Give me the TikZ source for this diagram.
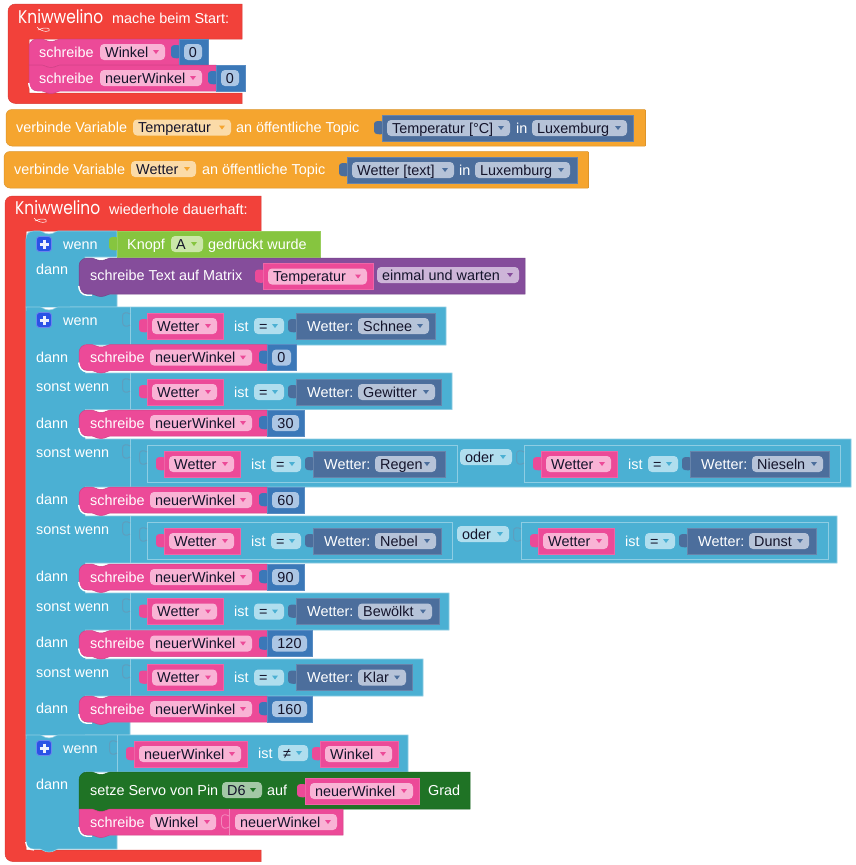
\documentclass[tikz,border=0pt]{standalone}
\usepackage{fontspec}
\setmainfont{Liberation Sans}
\newfontfamily\logofont{Poppins}
\definecolor{cRed}{HTML}{F2413A}
\definecolor{cPink}{HTML}{EC4A98}
\definecolor{fPink}{HTML}{F9B3D5}
\definecolor{cVal}{HTML}{3B78B8}
\definecolor{fVal}{HTML}{ACC6E4}
\definecolor{cSteel}{HTML}{4C6E9C}
\definecolor{fSteel}{HTML}{B6C3D8}
\definecolor{cOr}{HTML}{F5A52F}
\definecolor{fOr}{HTML}{FBDBA8}
\definecolor{cIf}{HTML}{4BB0D3}
\definecolor{fIf}{HTML}{B0DEEE}
\definecolor{lIf}{HTML}{8ECDE3}
\definecolor{sIf}{HTML}{5E9EBE}
\definecolor{cGr}{HTML}{86C53F}
\definecolor{fGr}{HTML}{CBE6A9}
\definecolor{cPu}{HTML}{854D9B}
\definecolor{fPu}{HTML}{CDB5D8}
\definecolor{cDg}{HTML}{1F7325}
\definecolor{fDg}{HTML}{A3C8A6}
\definecolor{cPlus}{HTML}{2A52E6}
\definecolor{ink}{HTML}{14142B}
\newcounter{nn}
\tikzset{
  txt/.style={inner sep=0pt,font=\fontsize{14.4}{16}\selectfont},
  edge/.style={line width=.5pt},
  ifblock/.style={fill=cIf,draw=lIf,line width=.6pt},
  slotline/.style={draw=lIf,line width=.7pt},
  slotbump/.style={draw=sIf,line width=1pt}
}
\newcommand\Tx[4]{\stepcounter{nn}\node[txt,text=#3,anchor=base west] (n\arabic{nn}) at ({#1},{#2+5}) {#4};}
\newcommand\Wh[3]{\Tx{#1}{#2}{white}{#3}}
\newcommand\Fld[6]{\fill[#1,rounded corners=4pt] ({#3},{#5-8}) rectangle ({#4},{#5+8});
  \Tx{#3+5}{#5}{ink}{#6}
  \fill[#2] ({#4-12},{#5-2}) -- ({#4-6},{#5-2}) -- ({#4-9},{#5+2}) -- cycle;}
\newcommand\Num[4]{\fill[fVal,rounded corners=4pt] ({#1},{#3-8}) rectangle ({#2},{#3+8});
  \stepcounter{nn}\node[txt,text=ink,anchor=base] (n\arabic{nn}) at ({(#1+#2)/2},{#3+5}) {#4};}
\newcommand\Tab[3]{\fill[#1] ({#2+1},{#3-6.5}) .. controls ({#2-2},{#3-7}) and ({#2-8},{#3-8}) .. ({#2-8},{#3-4}) -- ({#2-8},{#3+3}) .. controls ({#2-8},{#3+7}) and ({#2-2},{#3+6.5}) .. ({#2+1},{#3+6}) -- cycle;}
\newcommand\Val[4]{\Tab{#1}{#2}{#4}
  \draw[fill=#1,draw=#1!85!white,edge] ({#2},{#4-13}) rectangle ({#3},{#4+13});}
% statement: colour, x, y, w, h, top radius, bottom radius
\newcommand\Stm[7]{\begin{scope}[shift={(#2,#3)}]
  \draw[fill=#1,draw=#1!88!black,edge] (0,#6) .. controls (0,{#6*.45}) and ({#6*.45},0) .. (#6,0) -- (13,0)
   .. controls (15.5,0) and (17,2.5) .. (22,2.5) .. controls (27,2.5) and (28.5,0) .. (31,0)
   -- (#4,0) -- (#4,#5) -- (31,#5) .. controls (28.5,#5) and (27,{#5+2.5}) .. (22,{#5+2.5}) .. controls (17,{#5+2.5}) and (15.5,#5) .. (13,#5)
   -- (#7,#5) .. controls ({#7*.45},#5) and (0,{#5-#7*.45}) .. (0,{#5-#7}) -- cycle;
  \end{scope}}
\newcommand\Sliver[2]{\draw[white,line width=1.4pt] ({#1-.3},{#2-8}) .. controls ({#1},{#2-3}) and ({#1+3},{#2+1.2}) .. ({#1+8},{#2+1.2}) -- ({#1+13},{#2+1.2});}
\newcommand\Schr[3]{\Stm{cPink}{79}{#1}{188}{26}{8}{8}\Sliver{79}{#1+26}
  \Wh{90}{#1+13}{schreibe}\Fld{fPink}{cPink}{150}{252}{#1+13}{neuerWinkel}
  \Val{cVal}{267}{#2}{#1+13}\Num{272}{#2-5}{#1+13}{#3}}
\newcommand\Pk[4]{\Val{cPink}{#1}{#2}{#3}\Fld{fPink}{cPink}{#1+5}{#2-6}{#3}{#4}}
% x0, yc, dark end, field end, label
\newcommand\CondR[5]{\Pk{#1}{#1+76}{#2}{Wetter}
  \Wh{#1+87}{#2}{ist}\Fld{fIf}{cIf}{#1+107}{#1+137}{#2}{=}
  \Val{cSteel}{#1+149}{#3}{#2}\Wh{#1+160}{#2}{Wetter:}\Fld{fSteel}{cSteel}{#1+211}{#4}{#2}{#5}}
\newcommand\Bump[2]{\draw[slotbump] ({#1},{#2+7}) .. controls ({#1-3},{#2+5}) and ({#1-7.5},{#2+5}) .. ({#1-7.5},{#2+9}) -- ({#1-7.5},{#2+15}) .. controls ({#1-7.5},{#2+20}) and ({#1-3},{#2+20}) .. ({#1},{#2+18});}
\newcommand\Slot[3]{\draw[slotline] ({#1},{#2}) -- ({#1},{#3});\Bump{#1}{#2}}
\newcommand\Plus[1]{\draw[fill=cPlus,draw=cPlus!70!white,line width=.8pt,rounded corners=3pt] (36.5,{#1-7.5}) rectangle (51.5,{#1+7.5});
  \draw[white!92!cPlus,line width=3pt] (39.5,#1) -- (48.5,#1) (44,{#1-4.5}) -- (44,{#1+4.5});}
\newcommand\Logo[2]{\stepcounter{nn}\node[inner sep=0pt,text=white,anchor=base west,font=\logofont\fontsize{17.5}{18}\selectfont] (n\arabic{nn}) at (#1,{#2+6}) {\scalebox{.88}[1.05]{Kniwwelino}};
  \draw[white,line width=.5pt] ({#1+19},{#2+10}) .. controls ({#1+24},{#2+16}) and ({#1+34},{#2+15}) .. ({#1+31},{#2+12}) .. controls ({#1+29},{#2+10}) and ({#1+24},{#2+11}) .. ({#1+20},{#2+13});}
\begin{document}
\begin{tikzpicture}[x=1pt,y=-1pt]
\useasboundingbox (0,0) rectangle (856,865);
\fill[white] (0,0) rectangle (856,865);
% --- start hat
\draw[fill=cRed,draw=cRed!90!black,edge] (8,12) .. controls (8,7) and (11,4) .. (16,4) -- (242,4) -- (242,39) -- (29,39) -- (29,93) -- (242,93) -- (242,103.5) -- (16,103.5) .. controls (11,103.5) and (8,100) .. (8,96) -- cycle;
\Logo{18}{17}
\Wh{112}{18}{mache beim Start:}
\Stm{cPink}{29}{39}{150}{26}{8}{0}
\Wh{39}{52}{schreibe}\Fld{fPink}{cPink}{100}{165}{52}{Winkel}
\Val{cVal}{179}{208}{52}\Num{184}{202}{52}{0}
\Stm{cPink}{29}{65}{187}{26}{0}{8}\Sliver{29}{91}
\Wh{39}{78}{schreibe}\Fld{fPink}{cPink}{100}{202}{78}{neuerWinkel}
\Val{cVal}{216}{245}{78}\Num{221}{239}{78}{0}
% --- orange 1
\draw[fill=cOr,draw=cOr!90!black,edge,rounded corners=6pt] (645,109.5) -- (6,109.5) -- (6,146) -- (645,146);
\draw[cOr!90!black,edge] (645,109.5) -- (645,146);
\Wh{16}{127.5}{verbinde Variable}\Fld{fOr}{cOr}{133}{231}{127.5}{Temperatur}\Wh{236}{127.5}{an öffentliche Topic}
\Val{cSteel}{382}{633}{128}\Fld{fSteel}{cSteel}{387}{510}{128}{Temperatur [°C]}\Wh{516}{128}{in}\Fld{fSteel}{cSteel}{532}{627}{128}{Luxemburg}
% --- orange 2
\draw[fill=cOr,draw=cOr!90!black,edge,rounded corners=6pt] (588,151.5) -- (4,151.5) -- (4,188) -- (588,188);
\draw[cOr!90!black,edge] (588,151.5) -- (588,188);
\Wh{14}{169}{verbinde Variable}\Fld{fOr}{cOr}{131}{196}{169}{Wetter}\Wh{202}{169}{an öffentliche Topic}
\Val{cSteel}{347}{577}{170}\Fld{fSteel}{cSteel}{352}{454}{170}{Wetter [text]}\Wh{459}{170}{in}\Fld{fSteel}{cSteel}{475}{570}{170}{Luxemburg}
% --- main loop
\draw[fill=cRed,draw=cRed!90!black,edge] (5,204) .. controls (5,199) and (8,196) .. (13,196) -- (261,196) -- (261,231) -- (26,231) -- (26,850) -- (261,850) -- (261,861.5) -- (13,861.5) .. controls (8,861.5) and (5,858) .. (5,853) -- cycle;
\Logo{15}{208}
\Wh{109}{209}{wiederhole dauerhaft:}
% --- if 1
\draw[ifblock] (26,239) .. controls (26,234) and (29,231) .. (34,231) -- (40,231) .. controls (42,231) and (44,234) .. (49,234) .. controls (54,234) and (56,231) .. (58,231) -- (117,231) -- (117,257) -- (85,257) -- (85,294) -- (117,294) -- (117,307) -- (26,307) -- cycle;
\fill[cIf] (25.7,239) rectangle (70,306.5);
\Plus{244}\Wh{63}{244}{wenn}\Wh{36}{269}{dann}
\Val{cGr}{117}{320}{244}\Wh{127}{244}{Knopf}\Fld{fGr}{cGr}{171}{203}{244}{A}\Wh{208}{244}{gedrückt wurde}
\Stm{cPu}{79}{258}{446}{36}{8}{8}\Sliver{79}{294}
\Wh{90}{275}{schreibe Text auf Matrix}
\Val{cPink}{263}{373}{276.5}\Fld{fPink}{cPink}{268}{367}{276.5}{Temperatur}
\Fld{fPu}{cPu}{377}{519}{275}{einmal und warten}
% --- if 2
\draw[ifblock] (26,307) -- (40,307) .. controls (42,307) and (44,310) .. (49,310) .. controls (54,310) and (56,307) .. (58,307)
  -- (446,307) -- (446,345) -- (85,345) -- (85,373) -- (452,373) -- (452,409.5) -- (85,409.5) -- (85,439) -- (851,439) -- (851,487) -- (85,487)
  -- (85,516) -- (837,516) -- (837,563) -- (85,563) -- (85,593) -- (449,593) -- (449,630) -- (85,630) -- (85,659) -- (423,659) -- (423,696) -- (85,696) -- (85,722) -- (130,722) -- (130,735) -- (26,735) -- cycle;
\fill[cIf] (25.7,311) rectangle (84.6,734.5);
\Plus{320}\Wh{63}{320}{wenn}
\Slot{130}{307}{345}\Slot{130}{373}{409}\Slot{130}{439}{487}\Slot{130}{516}{563}\Slot{130}{593}{630}\Slot{130}{659}{696}
\CondR{147}{326}{435}{429}{Schnee}
\Wh{36}{357}{dann}\Schr{344.5}{296}{0}
\Wh{36}{386}{sonst wenn}
\CondR{147}{392}{441}{435}{Gewitter}
\Wh{36}{423}{dann}\Schr{410}{304}{30}
\Wh{36}{452}{sonst wenn}
\draw[fill=cIf,draw=lIf,line width=.6pt] (147,445) rectangle (457,482);\Bump{147}{445}
\CondR{164}{464}{445}{436}{Regen}
\Fld{fIf}{cIf}{460}{512}{457}{oder}
\draw[fill=cIf,draw=lIf,line width=.6pt] (524,445) rectangle (840,482);\Bump{524}{445}
\CondR{541}{464}{829}{823}{Nieseln}
\Wh{36}{499}{dann}\Schr{487}{304}{60}
\Wh{36}{529}{sonst wenn}
\draw[fill=cIf,draw=lIf,line width=.6pt] (147,522) rectangle (452,559);\Bump{147}{522}
\CondR{164}{541}{441}{436}{Nebel}
\Fld{fIf}{cIf}{457}{509}{534}{oder}
\draw[fill=cIf,draw=lIf,line width=.6pt] (521,522) rectangle (828,559);\Bump{521}{522}
\CondR{538}{541}{816}{809}{Dunst}
\Wh{36}{576}{dann}\Schr{564}{304}{90}
\Wh{36}{606}{sonst wenn}
\CondR{147}{611.5}{439}{432}{Bewölkt}
\Wh{36}{642}{dann}\Schr{630.5}{312}{120}
\Wh{36}{672}{sonst wenn}
\CondR{147}{677.5}{412}{406}{Klar}
\Wh{36}{708}{dann}\Schr{696}{312}{160}
% --- if 3
\draw[ifblock] (26,735) -- (40,735) .. controls (42,735) and (44,738) .. (49,738) .. controls (54,738) and (56,735) .. (58,735) -- (408,735) -- (408,772) -- (85,772) -- (85,835) -- (117,835) -- (117,849) -- (58,849)
  .. controls (56,849) and (54,852) .. (49,852) .. controls (44,852) and (42,849) .. (40,849) -- (34,849) .. controls (29,849) and (26,846) .. (26,841) -- cycle;
\fill[cIf] (25.7,739) rectangle (84.6,841);
\draw[white,line width=1.2pt] (25.7,842) .. controls (26,847) and (29,850) .. (34,850);
\Plus{748}\Wh{63}{748}{wenn}\Wh{36}{784}{dann}
\Slot{117}{735}{772}
\Pk{134}{247}{754}{neuerWinkel}
\Wh{258}{753}{ist}\Fld{fIf}{cIf}{278}{308}{753}{≠}
\Pk{320}{398}{754}{Winkel}
\Stm{cDg}{79}{772}{391}{37}{8}{0}
\Wh{90}{790}{setze Servo von Pin}\Fld{fDg}{cDg}{222}{262}{790}{D6}\Wh{267}{790}{auf}
\Pk{305}{419}{791}{neuerWinkel}\Wh{428}{790}{Grad}
\Stm{cPink}{79}{809}{264}{26}{0}{8}\Sliver{79}{835}
\Wh{90}{822}{schreibe}\Fld{fPink}{cPink}{150}{216}{822}{Winkel}
\draw[fPink!60!cPink,line width=.7pt] (229,809) -- (229,835);
\draw[fPink!60!cPink,line width=.8pt] (229,816) .. controls (226,814) and (221.5,814) .. (221.5,818) -- (221.5,824) .. controls (221.5,829) and (226,829) .. (229,827);
\Fld{fPink}{cPink}{235}{337}{822}{neuerWinkel}
\end{tikzpicture}
\end{document}
